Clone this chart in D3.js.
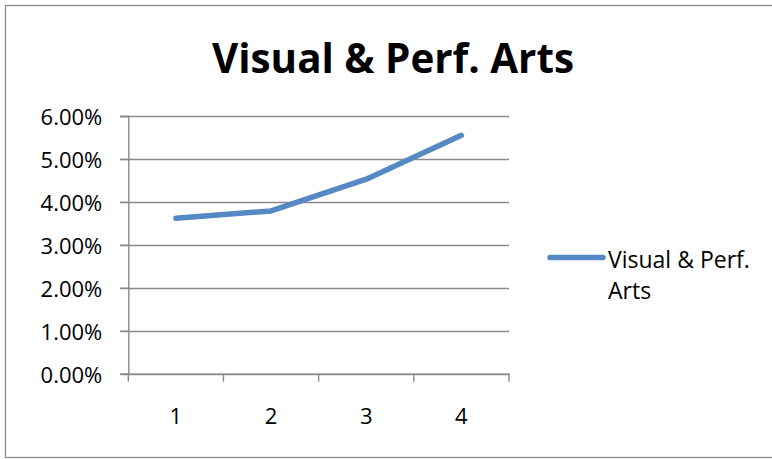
<!DOCTYPE html>
<html><head><meta charset="utf-8">
<script src="https://cdn.jsdelivr.net/npm/d3@7"></script>
<style>body{margin:0;background:#fff}svg{display:block}</style>
</head><body><div id="chart"></div>
<script>
const title = "Visual & Perf. Arts";
const categories = ["1", "2", "3", "4"];
const seriesName = "Visual & Perf. Arts";
const values = [0.0362, 0.0379, 0.0453, 0.0555];
const yTicks = [0, 0.01, 0.02, 0.03, 0.04, 0.05, 0.06];

(function () {
const W = 772, H = 459;
const svg = d3.select("#chart").append("svg").attr("width", W).attr("height", H);
svg.append("rect").attr("x", 5.5).attr("y", 5.5).attr("width", 800).attr("height", 452)
  .attr("fill", "#fff").attr("stroke", "#8c8c8c").attr("stroke-width", 1.3);

const font = "'Open Sans', sans-serif";
const pL = 128.3, pR = 509, pT = 116, pB = 373.7;
const x = d3.scaleBand().domain(categories).range([pL, pR]);
const y = d3.scaleLinear().domain([0, 0.06]).range([pB, pT]);
const grey = "#8a8a8a";

svg.append("text").attr("x", 393).attr("y", 73).attr("text-anchor", "middle")
  .attr("font-family", font).attr("font-weight", "bold").attr("font-size", 41)
  .attr("textLength", 362).attr("lengthAdjust", "spacingAndGlyphs")
  .attr("fill", "#000").text(title);

// gridlines
svg.append("g").selectAll("line").data(yTicks).join("line")
  .attr("x1", pL - 8).attr("x2", pR)
  .attr("y1", d => Math.round(y(d)) + 0.5).attr("y2", d => Math.round(y(d)) + 0.5)
  .attr("stroke", grey).attr("stroke-width", 1.4);

// y axis
const yAxis = svg.append("g").attr("transform", `translate(${pL},0)`)
  .call(d3.axisLeft(y).tickValues(yTicks).tickFormat(d3.format(".2%")).tickSize(8).tickPadding(18));
yAxis.select(".domain").attr("stroke", grey).attr("stroke-width", 1.4);
yAxis.selectAll(".tick line").attr("stroke", grey).attr("stroke-width", 1.4);
yAxis.selectAll("text").attr("font-family", font).attr("font-size", 22).attr("fill", "#000").attr("dy", "0.4em");

// x axis
const xAxis = svg.append("g").attr("transform", `translate(0,${pB})`)
  .call(d3.axisBottom(x).tickSize(0).tickPadding(35));
xAxis.select(".domain").attr("stroke", grey).attr("stroke-width", 1.4);
xAxis.selectAll("text").attr("font-family", font).attr("font-size", 22).attr("fill", "#000");
const bounds = categories.map(c => x(c)).concat([pR]);
svg.append("g").selectAll("line").data(bounds).join("line")
  .attr("x1", d => d).attr("x2", d => d).attr("y1", pB).attr("y2", pB + 8)
  .attr("stroke", grey).attr("stroke-width", 1.4);

// line
const line = d3.line().x((d, i) => x(categories[i]) + x.bandwidth() / 2).y(d => y(d));
svg.append("path").datum(values).attr("d", line).attr("fill", "none")
  .attr("stroke", "#5589c4").attr("stroke-width", 5.5).attr("stroke-linecap", "round").attr("stroke-linejoin", "round");

// legend
svg.append("line").attr("x1", 550).attr("x2", 603).attr("y1", 257.5).attr("y2", 257.5)
  .attr("stroke", "#5589c4").attr("stroke-width", 5.5).attr("stroke-linecap", "round");
const words = ["Visual & Perf.", "Arts"];
svg.append("g").selectAll("text").data(words).join("text")
  .attr("x", 608).attr("y", (d, i) => 268 + i * 31)
  .attr("font-family", font).attr("font-size", 23).attr("fill", "#000").text(d => d);
})();
</script></body></html>
